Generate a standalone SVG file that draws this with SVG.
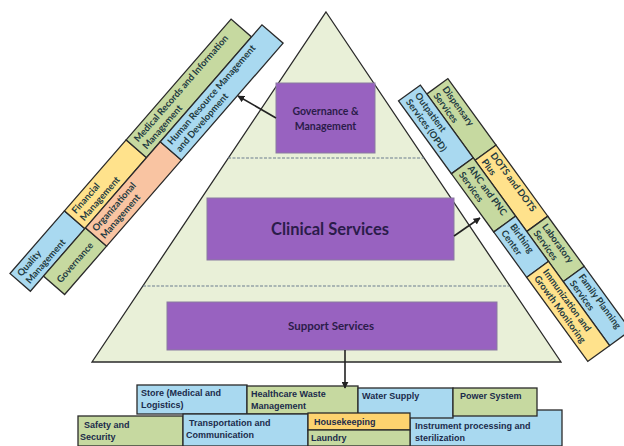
<svg xmlns="http://www.w3.org/2000/svg" width="624" height="446" viewBox="0 0 624 446">
<defs>
<marker id="ah" viewBox="0 0 10 10" refX="9" refY="5" markerWidth="7" markerHeight="7" markerUnits="userSpaceOnUse" orient="auto">
<path d="M0,0 L10,5 L0,10 z" fill="#222"/>
</marker>
<style>
.bx{stroke:#2a2a2a;stroke-width:1.3}
.blue{fill:#a9d9f0}
.green{fill:#c6d9a0}
.yellow{fill:#ffe28c}
.peach{fill:#f9c4a2}
.hk{fill:#fdd36f}
.st{font-family:Lato,"Noto Sans",sans-serif;font-weight:700;font-size:9.4px;fill:#1e3a40}
.bt{font-family:"Liberation Sans",Arial,sans-serif;font-weight:700;font-size:9px;fill:#1b2b4b}
.pbox{fill:#9862c0;stroke:#8a7aa0;stroke-width:1}
.pt{font-family:Lato,"Noto Sans",sans-serif;font-weight:700;fill:#2b1c4a;text-anchor:middle}
.dash{stroke:#6d7d8e;stroke-width:1.2;stroke-dasharray:3 1.5;fill:none}
.conn{stroke:#222;stroke-width:1.6;fill:none;marker-end:url(#ah)}
</style>
</defs>
<rect width="624" height="446" fill="#ffffff"/>

<g id="pyramid">
<polygon points="326,12 561,362 92,362" fill="#e9f0d8" stroke="#2a2a2a" stroke-width="1.3"/>
<line class="dash" x1="228" y1="158" x2="424" y2="158"/>
<line class="dash" x1="143" y1="286" x2="509" y2="286"/>
</g>

<g id="governance-management">
<rect class="pbox" x="276" y="83" width="99" height="70"/>
<text class="pt" font-size="10.5" x="325.5" y="115">Governance &amp;</text>
<text class="pt" font-size="10.5" x="325.5" y="130">Management</text>
</g>
<g id="clinical-services">
<rect class="pbox" x="207" y="198" width="247" height="62"/>
<text class="pt" font-size="16.5" x="330" y="235">Clinical Services</text>
</g>
<g id="support-services">
<rect class="pbox" x="167" y="302" width="330" height="48"/>
<text class="pt" font-size="11.5" x="331" y="330">Support Services</text>
</g>

<g id="left-strip" transform="translate(10,273.5) rotate(-49)">
<g id="quality-management"><rect class="bx blue" x="0" y="0" width="83" height="27"/><text class="st" x="5" y="11">Quality</text><text class="st" x="5" y="22">Management</text></g>
<g id="financial-management"><rect class="bx yellow" x="83" y="0" width="94" height="27"/><text class="st" x="88" y="11">Financial</text><text class="st" x="88" y="22">Management</text></g>
<g id="medical-records"><rect class="bx green" x="177" y="0" width="160" height="27"/><text class="st" x="183" y="11">Medical Records and Information</text><text class="st" x="183" y="22">Management</text></g>
<g id="governance"><rect class="bx green" x="20" y="27" width="64" height="28"/><text class="st" x="26" y="45">Governance</text></g>
<g id="organizational-management"><rect class="bx peach" x="84" y="27" width="114" height="28"/><text class="st" x="88" y="38">Organizational</text><text class="st" x="88" y="49">Management</text></g>
<g id="human-resource"><rect class="bx blue" x="198" y="27" width="155" height="28"/><text class="st" x="203" y="38">Human Resource Management</text><text class="st" x="203" y="49">and Development</text></g>
</g>

<g id="right-strip" transform="translate(441.4,69.8) rotate(54)">
<g id="dispensary"><rect class="bx green" x="11" y="0" width="82" height="26"/><text class="st" x="16" y="11">Dispensary</text><text class="st" x="16" y="22">Services</text></g>
<g id="dots"><rect class="bx yellow" x="93" y="0" width="88" height="26"/><text class="st" x="98" y="11">DOTS and DOTS</text><text class="st" x="98" y="22">Plus</text></g>
<g id="laboratory"><rect class="bx green" x="181" y="0" width="62" height="26"/><text class="st" x="186" y="11">Laboratory</text><text class="st" x="186" y="22">Services</text></g>
<g id="family-planning"><rect class="bx blue" x="243" y="0" width="79" height="26"/><text class="st" x="248" y="11">Family Planning</text><text class="st" x="248" y="22">Services</text></g>
<g id="outpatient"><rect class="bx blue" x="0" y="26" width="90" height="27"/><text class="st" x="5" y="37">Outpatient</text><text class="st" x="5" y="48">Services (OPD)</text></g>
<g id="anc-pnc"><rect class="bx green" x="90" y="26" width="72" height="27"/><text class="st" x="95" y="37">ANC and PNC</text><text class="st" x="95" y="48">Services</text></g>
<g id="birthing"><rect class="bx blue" x="162" y="26" width="56" height="27"/><text class="st" x="167" y="37">Birthing</text><text class="st" x="167" y="48">Center</text></g>
<g id="immunization"><rect class="bx yellow" x="218" y="26" width="104" height="27"/><text class="st" x="223" y="37">Immunization and</text><text class="st" x="223" y="48">Growth Monitoring</text></g>
</g>

<g id="support-items">
<g id="instrument"><rect class="bx blue" x="410" y="410" width="152" height="36"/><text class="bt" x="415" y="429">Instrument processing and</text><text class="bt" x="415" y="441">sterilization</text></g>
<g id="store"><rect class="bx blue" x="137" y="385" width="110" height="29"/><text class="bt" x="141" y="396">Store (Medical and</text><text class="bt" x="141" y="408">Logistics)</text></g>
<g id="healthcare-waste"><rect class="bx green" x="247" y="386" width="111" height="28"/><text class="bt" x="251" y="397">Healthcare Waste</text><text class="bt" x="251" y="409">Management</text></g>
<g id="water-supply"><rect class="bx blue" x="358" y="388" width="95" height="30"/><text class="bt" x="362" y="399">Water Supply</text></g>
<g id="power-system"><rect class="bx green" x="453" y="388" width="84" height="28"/><text class="bt" x="460" y="399">Power System</text></g>
<g id="safety"><rect class="bx green" x="78" y="416" width="105" height="30"/><text class="bt" x="84" y="428">Safety and</text><text class="bt" x="80" y="440">Security</text></g>
<g id="transportation"><rect class="bx blue" x="183" y="414" width="125" height="32"/><text class="bt" x="189" y="426">Transportation and</text><text class="bt" x="186" y="438">Communication</text></g>
<g id="housekeeping"><rect class="bx hk" x="308" y="413" width="102" height="17"/><text class="bt" x="314" y="425">Housekeeping</text></g>
<g id="laundry"><rect class="bx green" x="308" y="430" width="102" height="16"/><text class="bt" x="311" y="441">Laundry</text></g>
</g>

<g id="connectors">
<line class="conn" x1="276" y1="118" x2="238" y2="96"/>
<line class="conn" x1="454" y1="236" x2="480" y2="218"/>
<line class="conn" x1="345" y1="350" x2="345" y2="388"/>
</g>
</svg>
